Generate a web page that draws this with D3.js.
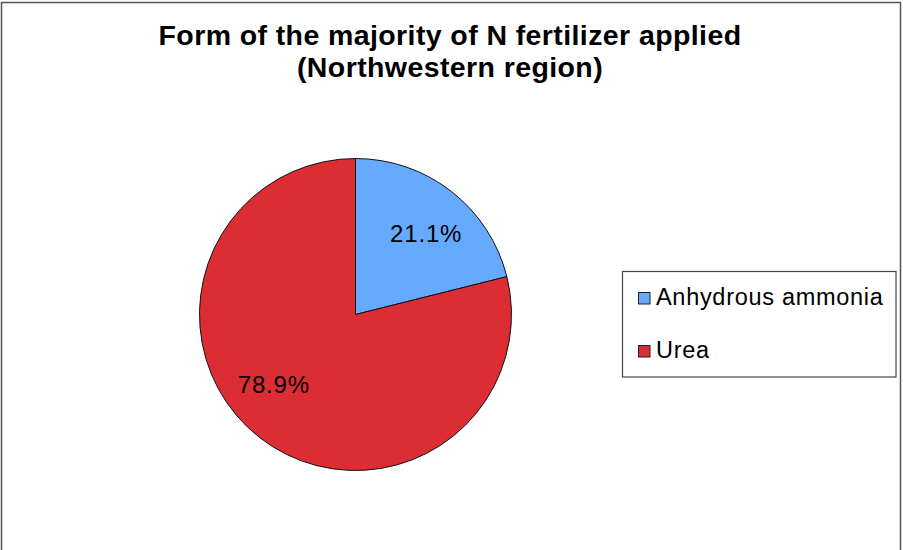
<!DOCTYPE html>
<html>
<head>
<meta charset="utf-8">
<script src="https://cdn.jsdelivr.net/npm/d3@7"></script>
<style>
  html, body { margin: 0; padding: 0; background: #fff; }
  svg { display: block; font-family: "Liberation Sans", Arial, sans-serif; }
</style>
</head>
<body>
<svg id="chart" width="903" height="550"></svg>
<script>
const titleLines = ["Form of the majority of N fertilizer applied", "(Northwestern region)"];
const categories = ["Anhydrous ammonia", "Urea"];
const values = [21.1, 78.9];
const colors = ["#66AAFF", "#DC2C34"];

const svg = d3.select("#chart");

// outer chart border
svg.append("rect")
  .attr("x", 1.5).attr("y", 2.5)
  .attr("width", 899).attr("height", 600)
  .attr("fill", "#fff")
  .attr("stroke", "#555").attr("stroke-width", 1.5);

// title
const title = svg.append("text")
  .attr("text-anchor", "middle")
  .attr("font-weight", "bold")
  .attr("font-size", "28.5px")
  .attr("letter-spacing", "0.4px")
  .attr("fill", "#000");
titleLines.forEach((t, i) => {
  title.append("tspan").attr("x", 450).attr("y", 45 + i * 32).text(t);
});

// pie
const cx = 355.5, cy = 314.5, r = 156;
const data = categories.map((c, i) => ({ cat: c, value: values[i], color: colors[i] }));
const pie = d3.pie().value(d => d.value).sort(null);
const arcs = pie(data);
const arc = d3.arc().innerRadius(0).outerRadius(r);

const g = svg.append("g").attr("transform", `translate(${cx},${cy})`);
g.selectAll("path.slice")
  .data(arcs)
  .join("path")
  .attr("class", "slice")
  .attr("d", arc)
  .attr("fill", d => d.data.color)
  .attr("stroke", "#111")
  .attr("stroke-width", 1);

// data labels placed inside each slice (Excel "best fit" style)
const labelR = r * 0.69, labelFrac = 0.54;
g.selectAll("text.lbl")
  .data(arcs)
  .join("text")
  .attr("class", "lbl")
  .attr("transform", d => {
    const a = d.startAngle + labelFrac * (d.endAngle - d.startAngle);
    return `translate(${labelR * Math.sin(a)},${-labelR * Math.cos(a)})`;
  })
  .attr("text-anchor", "middle")
  .attr("dy", "0.35em")
  .attr("font-size", "24px")
  .attr("letter-spacing", "0.8px")
  .attr("fill", "#000")
  .text(d => d.data.value.toFixed(1) + "%");

// legend
const lg = svg.append("g");
lg.append("rect")
  .attr("x", 622.5).attr("y", 271.5)
  .attr("width", 273.5).attr("height", 105.5)
  .attr("fill", "#fff")
  .attr("stroke", "#444").attr("stroke-width", 1.2);

const legendY = d3.scalePoint().domain(categories).range([305, 358]);
const items = lg.selectAll("g.item").data(data).join("g").attr("class", "item");
items.append("rect")
  .attr("x", 638.5)
  .attr("y", d => legendY(d.cat) - 12.5)
  .attr("width", 11.5).attr("height", 11.5)
  .attr("fill", d => d.color)
  .attr("stroke", "#222").attr("stroke-width", 1);
items.append("text")
  .attr("x", 656)
  .attr("y", d => legendY(d.cat))
  .attr("font-size", "23.5px")
  .attr("letter-spacing", "0.7px")
  .attr("fill", "#000")
  .text(d => d.cat);
</script>
</body>
</html>
